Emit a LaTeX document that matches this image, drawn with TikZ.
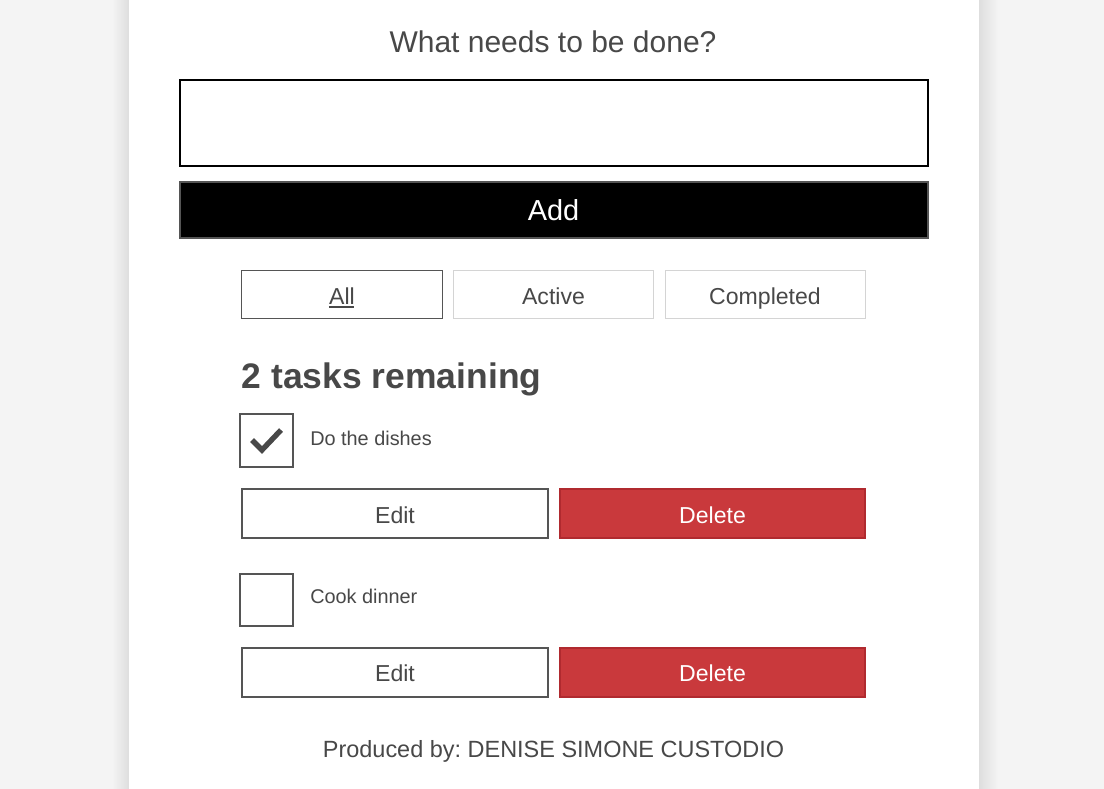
\documentclass[tikz,border=0pt]{standalone}
\usepackage{fontspec}
\setmainfont{Liberation Sans}
\frenchspacing

\definecolor{pagebg}{HTML}{F4F4F4}
\definecolor{txtgray}{HTML}{484848}
\definecolor{boxgray}{HTML}{555555}
\definecolor{softline}{HTML}{D4D4D4}
\definecolor{delred}{HTML}{C9393C}
\definecolor{delline}{HTML}{B02A2F}

\tikzset{
  lbl/.style={text=txtgray, inner sep=0pt, anchor=base},
  btntxt/.style={lbl, font=\fontsize{17.3}{20}\selectfont},
  itemtxt/.style={lbl, anchor=base west, font=\fontsize{14.9}{17}\selectfont},
  editbox/.style={draw=boxgray, line width=1.5pt, fill=white},
  delbox/.style={draw=delline, line width=1.5pt, fill=delred},
  tickbox/.style={draw=boxgray, line width=1.5pt}
}

\begin{document}
\begin{tikzpicture}[x=0.75pt, y=-0.75pt]
\useasboundingbox (0,0) rectangle (1104,789);
% page and card
\fill[pagebg] (0,0) rectangle (1104,789);
\shade[left color=pagebg, right color=black!13] (112,0) rectangle (129,789);
\shade[left color=black!13, right color=pagebg] (979,0) rectangle (998,789);
\fill[white] (129,0) rectangle (979,789);

\node[lbl, font=\fontsize{22.5}{26}\selectfont] (title) at (553,52) {What needs to be done?};
\draw[line width=1.5pt, fill=white] (180,80) rectangle (928,166);
\draw[draw=boxgray, line width=1.5pt, fill=black] (180,182) rectangle (928,238);
\node[lbl, text=white, font=\fontsize{21.7}{26}\selectfont] (add) at (553.5,220) {Add};

% filters
\draw[draw=boxgray, line width=0.75pt] (241.5,270.5) rectangle (442.5,318);
\draw[draw=softline, line width=0.75pt] (453.5,270.5) rectangle (653.5,318);
\draw[draw=softline, line width=0.75pt] (665,270.5) rectangle (865.5,318);
\node[btntxt] (all) at (342,304) {All};
\draw[txtgray, line width=1.2pt] (all.base west) ++(0,3) -- ++(25.5,0);
\node[btntxt] (active) at (553.5,304) {Active};
\node[btntxt] (completed) at (765,304) {Completed};

\node[lbl, anchor=base west, font=\bfseries\fontsize{26.6}{30}\selectfont] (remaining) at (241.5,388) {2 tasks remaining};

% first task
\draw[tickbox] (240,413.5) rectangle (293,466.5);
\draw[txtgray, line width=4pt, line join=miter] (252,440) -- (262,450) -- (281,430);
\node[itemtxt] (dishes) at (310,445) {Do the dishes};
\draw[editbox] (242,489) rectangle (548,538);
\node[btntxt] (edit1) at (395,523) {Edit};
\draw[delbox] (560,489) rectangle (865,538);
\node[btntxt, text=white] (delete1) at (712.5,523) {Delete};

% second task
\draw[tickbox] (240,573.5) rectangle (293,626);
\node[itemtxt] (dinner) at (310,603) {Cook dinner};
\draw[editbox] (242,648) rectangle (548,697);
\node[btntxt] (edit2) at (395,681) {Edit};
\draw[delbox] (560,648) rectangle (865,697);
\node[btntxt, text=white] (delete2) at (712.5,681) {Delete};

\node[btntxt, font=\fontsize{17.6}{20}\selectfont] (footer) at (553.5,757) {Produced by: DENISE SIMONE CUSTODIO};
\end{tikzpicture}
\end{document}
